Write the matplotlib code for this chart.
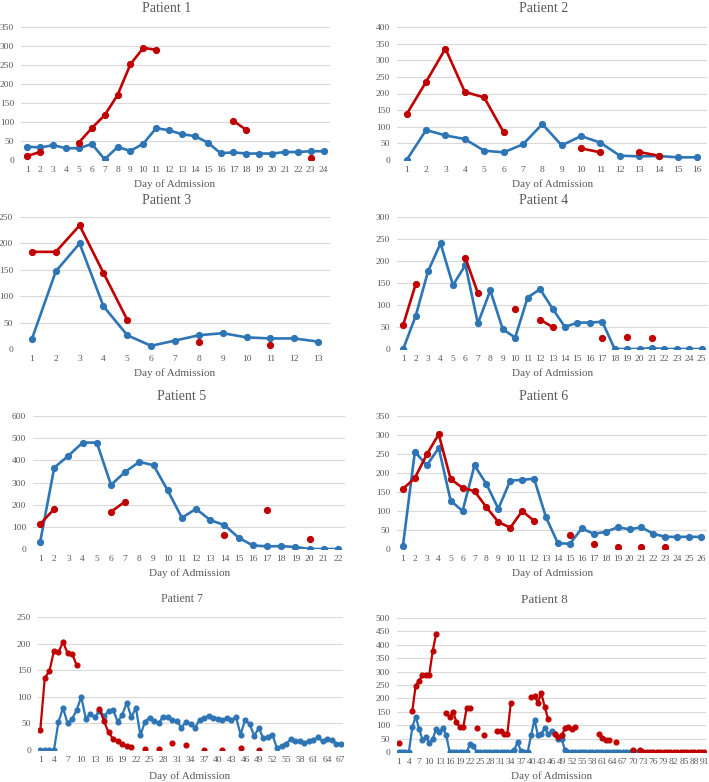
import numpy as np
import matplotlib
matplotlib.use('Agg')
import matplotlib.pyplot as plt

plt.rcParams['font.family'] = ['Liberation Serif', 'DejaVu Serif']

W, H = 709, 782
BLUE = '#2E75B6'
RED = '#C00000'
TXT = '#595959'
GRID = '#D9D9D9'

N = None

# ---- data ----
p1_blue = [35, 33, 39, 31, 31, 42, 2, 34, 24, 43, 84, 78, 68, 63, 46, 18, 20, 17, 17, 17, 21, 21, 23, 23]
p1_red = [11, 21, N, N, 46, 84, 118, 171, 252, 295, 290, N, N, N, N, N, 103, 79, N, N, N, N, 4, N]

p2_blue = [0, 90, 74, 63, 28, 23, 47, 108, 44, 72, 52, 13, 11, 12, 8, 8]
p2_red = [138, 235, 335, 205, 188, 84, N, N, N, 35, 23, N, 24, 13, N, N]

p3_blue = [19, 147, 200, 81, 26, 6, 16, 26, 30, 22, 20, 20, 14]
p3_red = [184, 184, 234, 144, 55, N, N, 13, N, N, 8, N, N]

p4_blue = [0, 75, 177, 240, 145, 191, 58, 133, 45, 26, 117, 136, 92, 50, 60, 60, 62,
           0, 0, 0, 2, 0, 0, 0, 0]
p4_red = [55, 147, N, N, N, 207, 127, N, N, 91, N, 67, 50, N, N, N, 26, N, 27, N, 24,
          N, N, N, N]

p5_blue = [30, 367, 421, 480, 480, 289, 348, 393, 378, 264, 141, 181, 130, 108, 51, 16,
           12, 13, 9, 0, 0, 0]
p5_red = [112, 181, N, N, N, 168, 214, N, N, N, N, N, N, 64, N, N, 174, N, N, 43, N, N]

p6_blue = [9, 256, 220, 266, 127, 100, 220, 171, 106, 180, 182, 185, 83, 15, 14, 54, 40,
           45, 57, 52, 57, 40, 32, 32, 32, 32]
p6_red = [158, 187, 249, 302, 184, 161, 152, 110, 71, 56, 100, 74, N, N, 37, N, 12, N, 6,
          N, 5, N, 4, N, N, N]

p7_blue = [0, 0, 0, 0, 53, 79, 50, 59, 75, 100, 59, 68, 62, 74, 64, 73, 76, 53, 66, 89,
           62, 79, 28, 53, 61, 55, 51, 62, 62, 56, 55, 42, 53, 49, 42, 57, 61, 63, 61, 59,
           56, 61, 56, 62, 29, 57, 48, 27, 41, 22, 24, 29, 3, 8, 12, 20, 16, 17, 14, 16,
           19, 24, 16, 20, 19, 12, 12]
p7_red = [37, 136, 148, 186, 184, 203, 182, 181, 159, N, N, N, N, 78, 54, 33, 21, 17, 11,
          8, 5, N, N, 1, N, N, 1, N, N, 13, N, N, 9, N, N, N, 0, N, N, N, 0, N, N, N, 4,
          N, N, N, 0] + [N] * 18

p8_blue = ([0, 0, 0, 0, 92, 132, 87, 45, 55, 34, 48, 85, 76, 90, 63]
           + [0] * 6 + [28, 22] + [0] * 11 + [8, 36, 4, 0, 0]
           + [64, 121, 62, 68, 90, 66, 78, 66, 50, 47, 7] + [0] * 23 + [N] * 18)
p8_red = ([35, N, N, N, 153, 248, 266, 287, 288, 288, 376, 440, N, N,
           147, 129, 151, 112, 92, 92, 163, 163, N, 91, N, 65, N, N, N,
           77, 79, 68, 68, 182, N, N, N, N, N,
           204, 209, 184, 219, 169, 123, N, 68, 55, 62, 88, 95, 84, 92,
           N, N, N, N, N, N, 68, 52, 46, 44, N, 38, N, N, N, N, 8, N, 8]
          + [0] * 19)

panels = [
    # name, blue, red, ymax, ystep, xstep, (left, right, top, bottom), title xy, xlabel xy, title size
    ('Patient 1', p1_blue, p1_red, 350, 50, 1, (21, 330, 27, 160), (167, 8), (175, 184), 10),
    ('Patient 2', p2_blue, p2_red, 400, 50, 1, (397, 707, 27, 160), (544, 8), (553, 184), 10),
    ('Patient 3', p3_blue, p3_red, 250, 50, 1, (20, 330, 217, 349), (167, 200), (175, 373), 10),
    ('Patient 4', p4_blue, p4_red, 300, 50, 1, (397, 708, 217, 349), (544, 200), (553, 373), 10),
    ('Patient 5', p5_blue, p5_red, 600, 100, 1, (33, 345, 416, 549), (182, 397), (190, 573), 10),
    ('Patient 6', p6_blue, p6_red, 350, 50, 1, (397, 707, 416, 549), (544, 397), (553, 573), 10),
    ('Patient 7', p7_blue, p7_red, 250, 50, 3, (38, 343, 617, 750), (182, 599), (190, 776), 8.5),
    ('Patient 8', p8_blue, p8_red, 500, 50, 3, (397, 706, 618, 752), (544, 600), (552, 776), 9.5),
]

fig = plt.figure(figsize=(W / 100, H / 100), dpi=100)

for name, blue, red, ymax, ystep, xstep, box, txy, lxy, tsize in panels:
    l, r, t, b = box
    ax = fig.add_axes([l / W, 1 - b / H, (r - l) / W, (b - t) / H])
    n = len(red)
    days = np.arange(1, n + 1)
    yb = np.array(blue + [N] * (n - len(blue)), dtype=float)
    yr = np.array(red, dtype=float)
    ms = 4.2 if n < 30 else 3.4
    lw = 1.9 if n < 30 else 1.6
    ax.plot(days, yb, color=BLUE, lw=lw, marker='o', ms=ms, zorder=3)
    ax.plot(days, yr, color=RED, lw=lw, marker='o', ms=ms, zorder=4)

    ax.set_xlim(0.5, n + 0.5)
    ax.set_ylim(0, ymax)
    ax.set_xticks(days[::xstep])
    ax.set_xticklabels([str(d) for d in days[::xstep]])
    ax.set_yticks(np.arange(0, ymax + 1, ystep))
    ax.yaxis.grid(True, color=GRID, lw=0.8)
    ax.set_axisbelow(True)
    for s in ax.spines.values():
        s.set_visible(False)
    ax.tick_params(length=0, labelsize=6.8, colors=TXT)
    ax.tick_params(axis='y', pad=5)
    ax.tick_params(axis='x', pad=4)
    ax.set_clip_on(False)

    fig.text(txy[0] / W, 1 - txy[1] / H, name, ha='center', va='center',
             fontsize=tsize, color=TXT)
    fig.text(lxy[0] / W, 1 - lxy[1] / H, 'Day of Admission', ha='center', va='center',
             fontsize=8, color=TXT)

fig.savefig('out.png', dpi=100, facecolor='white')
